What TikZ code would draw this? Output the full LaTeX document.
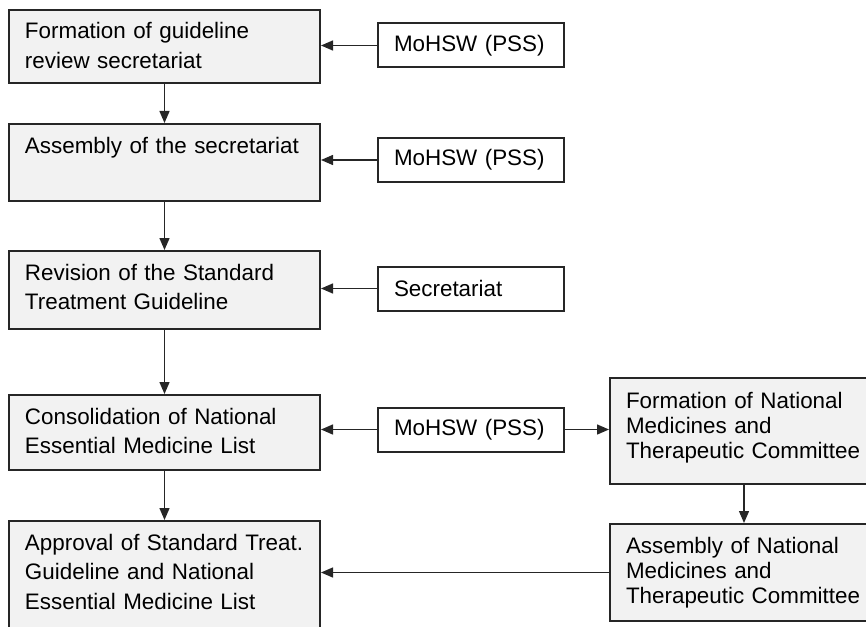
\documentclass[tikz,border=0pt]{standalone}
\usepackage{fontspec}
\setmainfont{Liberation Sans}
\usetikzlibrary{arrows.meta}
\definecolor{boxgray}{gray}{0.95}
\definecolor{linegray}{gray}{0.15}
\tikzset{
  stage/.style={draw=linegray, line width=1pt, fill=boxgray, anchor=north west,
    align=left, inner xsep=8pt, inner ysep=0pt, text height=14.5pt,
    font=\fontsize{11.2}{14.75}\selectfont},
  actor/.style={draw=linegray, line width=1pt, fill=white, anchor=east,
    align=left, inner xsep=8pt, inner ysep=0pt, text width=77pt,
    minimum height=22pt, font=\fontsize{11.2}{14}\selectfont},
  flow/.style={draw=linegray, line width=0.7pt, -{Triangle[length=6pt,width=5pt]}}
}
\begin{document}
\begin{tikzpicture}[x=0.5pt,y=-0.5pt]
\useasboundingbox (0,0) rectangle (866,626);
\clip (0,0) rectangle (866,626);
% guideline steps
\node[stage, text width=139.5pt, text depth=22pt] (form) at (8,9)
  {Formation of guideline\\review secretariat};
\node[stage, text width=139.5pt, text depth=24pt] (assem) at (8,123)
  {Assembly of the secretariat};
\node[stage, text width=139.5pt, text depth=24.5pt] (revis) at (8,250)
  {Revision of the Standard\\Treatment Guideline};
\node[stage, text width=139.5pt, text depth=23pt] (consol) at (8,394)
  {Consolidation of National\\Essential Medicine List};
\node[stage, text width=139.5pt, text depth=45.5pt] (approv) at (8,520)
  {Approval of Standard Treat.\\Guideline and National\\Essential Medicine List};
% committee steps
\node[stage, text width=118pt, text height=15pt, text depth=38pt,
  font=\fontsize{11.2}{12.5}\selectfont] (nmtcform) at (609,377)
  {Formation of National\\Medicines and\\Therapeutic Committee};
\node[stage, text width=118pt, text depth=34pt,
  font=\fontsize{11.2}{12.5}\selectfont] (nmtcassem) at (609,523)
  {Assembly of National\\Medicines and\\Therapeutic Committee};
% who does it
\node[actor] (pssa) at (565,45.5) {MoHSW (PSS)};
\node[actor] (pssb) at (565,160) {MoHSW (PSS)};
\node[actor] (secr) at (565,288.5) {Secretariat};
\node[actor] (pssc) at (565,429.5) {MoHSW (PSS)};
% connectors
\draw[flow] (form) -- (assem);
\draw[flow] (assem) -- (revis);
\draw[flow] (revis) -- (consol);
\draw[flow] (consol) -- (approv);
\draw[flow] (pssa.west) -- (pssa.west -| form.east);
\draw[flow] (pssb.west) -- (pssb.west -| assem.east);
\draw[flow] (secr.west) -- (secr.west -| revis.east);
\draw[flow] (pssc.west) -- (pssc.west -| consol.east);
\draw[flow] (pssc.east) -- (pssc.east -| nmtcform.west);
\draw[flow] (nmtcform) -- (nmtcassem);
\draw[flow] (nmtcassem.west) -- (nmtcassem.west -| approv.east);
\end{tikzpicture}
\end{document}
